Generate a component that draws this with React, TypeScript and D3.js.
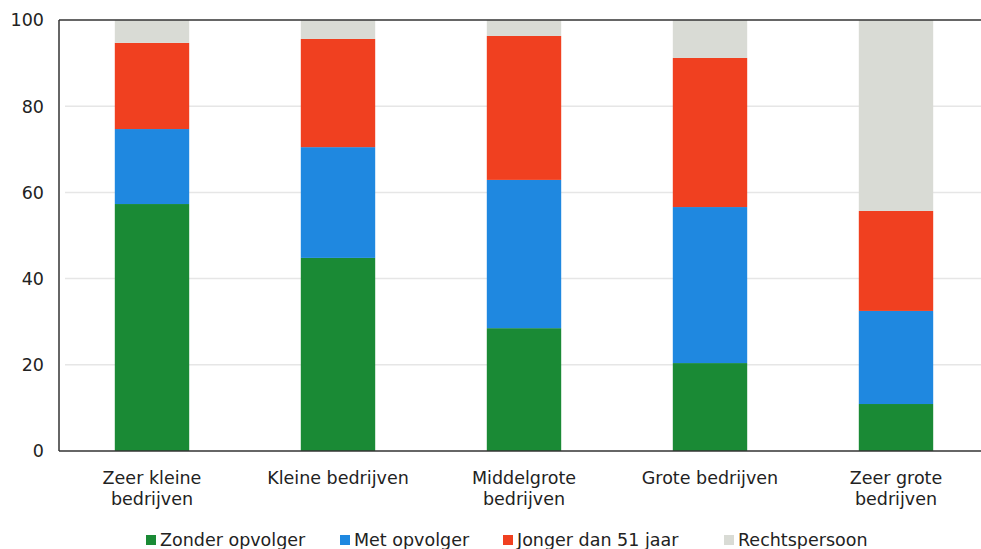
import React from "react";
import * as d3 from "d3";

const categories = [
  ["Zeer kleine", "bedrijven"],
  ["Kleine bedrijven"],
  ["Middelgrote", "bedrijven"],
  ["Grote bedrijven"],
  ["Zeer grote", "bedrijven"],
];
const seriesNames = ["Zonder opvolger", "Met opvolger", "Jonger dan 51 jaar", "Rechtspersoon"];
const zonderOpvolger = [57.3, 44.8, 28.5, 20.4, 10.9];
const metOpvolger = [17.4, 25.7, 34.4, 36.2, 21.6];
const jongerDan51 = [20.0, 25.1, 33.4, 34.6, 23.2];
const rechtspersoon = [5.3, 4.4, 3.7, 8.8, 44.3];
const yTicks = [0, 20, 40, 60, 80, 100];
const colors = ["#1a8a35", "#1f88e0", "#f04020", "#d9dbd5"];

export default function App() {
  const W = 981, H = 549;
  const left = 59, right = 989, top = 20, bottom = 451;
  const font = "'DejaVu Sans', Verdana, sans-serif";
  const x = d3.scaleBand<number>().domain(d3.range(categories.length)).range([left, right]).paddingInner(0.6).paddingOuter(0.3);
  const y = d3.scaleLinear().domain([0, 100]).range([bottom, top]);
  const table = categories.map((_, i) => ({
    i,
    s0: zonderOpvolger[i],
    s1: metOpvolger[i],
    s2: jongerDan51[i],
    s3: rechtspersoon[i],
  }));
  const stack = d3.stack<any>().keys(["s0", "s1", "s2", "s3"])(table);
  const legendX = [146, 340, 503, 724];
  return (
    <svg width={W} height={H} style={{ position: "absolute", left: 0, top: 0, background: "#fff" }}>
      {yTicks.filter(t => t > 0 && t < 100).map(t => (
        <line key={t} x1={left + 6} x2={W} y1={y(t)} y2={y(t)} stroke="#e6e6e6" strokeWidth={1.5} />
      ))}
      {stack.map((layer, k) => (
        <g key={k} fill={colors[k]}>
          {layer.map((d, i) => (
            <rect key={i} x={x(i)} width={x.bandwidth()} y={y(d[1])} height={y(d[0]) - y(d[1])} />
          ))}
        </g>
      ))}
      <line x1={left} x2={W} y1={top} y2={top} stroke="#333" strokeWidth={1.5} />
      <line x1={left} x2={W} y1={bottom} y2={bottom} stroke="#333" strokeWidth={1.5} />
      <line x1={left} x2={left} y1={top} y2={bottom} stroke="#333" strokeWidth={1.5} />
      {yTicks.map(t => (
        <text key={t} x={44} y={y(t)} dy="0.36em" textAnchor="end" fontFamily={font} fontSize={17.5} fill="#222">{t}</text>
      ))}
      {categories.map((lines, i) => (
        <text key={i} x={x(i)! + x.bandwidth() / 2} y={484} textAnchor="middle" fontFamily={font} fontSize={17.5} fill="#222">
          {lines.map((l, j) => (
            <tspan key={j} x={x(i)! + x.bandwidth() / 2} dy={j === 0 ? 0 : 21}>{l}</tspan>
          ))}
        </text>
      ))}
      {seriesNames.map((n, k) => (
        <g key={k}>
          <rect x={legendX[k]} y={535} width={10} height={10} fill={colors[k]} />
          <text x={legendX[k] + 14} y={546} fontFamily={font} fontSize={17.5} fill="#222">{n}</text>
        </g>
      ))}
    </svg>
  );
}
